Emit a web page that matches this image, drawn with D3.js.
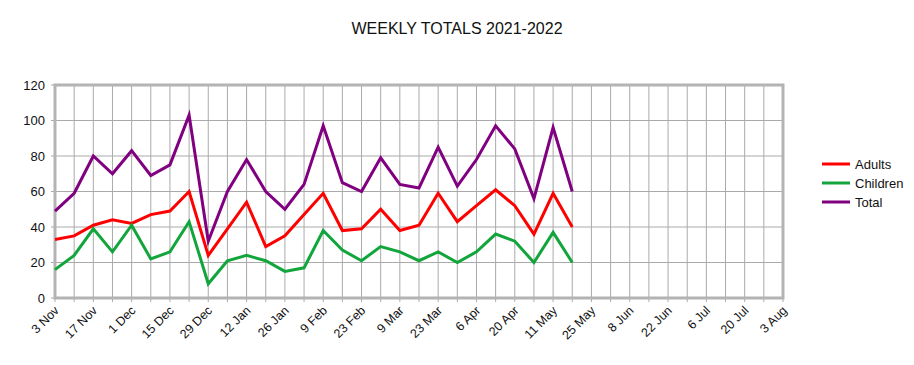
<!DOCTYPE html>
<html>
<head>
<meta charset="utf-8">
<script src="https://cdn.jsdelivr.net/npm/d3@7"></script>
<style>
  body { margin: 0; background: #fff; }
  text { font-family: "Liberation Sans", Arial, sans-serif; }
</style>
</head>
<body>
<div id="chart"></div>
<script>
// weekly categories (one week missing between 20 Apr and 11 May)
var weeks = ["3 Nov", "10 Nov", "17 Nov", "24 Nov", "1 Dec", "8 Dec", "15 Dec", "22 Dec", "29 Dec", "5 Jan",
    "12 Jan", "19 Jan", "26 Jan", "2 Feb", "9 Feb", "16 Feb", "23 Feb", "2 Mar", "9 Mar", "16 Mar",
    "23 Mar", "30 Mar", "6 Apr", "13 Apr", "20 Apr", "27 Apr", "11 May", "18 May", "25 May", "1 Jun",
    "8 Jun", "15 Jun", "22 Jun", "29 Jun", "6 Jul", "13 Jul", "20 Jul", "27 Jul", "3 Aug"];

var adults = [33, 35, 41, 44, 42, 47, 49, 60, 24, 39, 54, 29, 35, 47, 59, 38, 39, 50, 38, 41, 59, 43, 52, 61, 52, 36, 59, 40];
var children = [16, 24, 39, 26, 41, 22, 26, 43, 8, 21, 24, 21, 15, 17, 38, 27, 21, 29, 26, 21, 26, 20, 26, 36, 32, 20, 37, 20];
var total = [49, 59, 80, 70, 83, 69, 75, 103, 32, 60, 78, 60, 50, 64, 97, 65, 60, 79, 64, 62, 85, 63, 78, 97, 84, 56, 96, 60];

var yTicks = [0, 20, 40, 60, 80, 100, 120];

var series = [
    { name: "Adults", values: adults, color: "#ff0000" },
    { name: "Children", values: children, color: "#12a53c" },
    { name: "Total", values: total, color: "#800080" }
];

var width = 914, height = 365;
var plot = { left: 55, right: 783, top: 85, bottom: 298 };

var svg = d3.select("#chart")
    .append("svg")
    .attr("width", width)
    .attr("height", height);

// title
svg.append("text")
    .attr("x", 457)
    .attr("y", 34)
    .attr("text-anchor", "middle")
    .style("font-size", "16px")
    .style("fill", "#111")
    .text("WEEKLY TOTALS 2021-2022");

var x = d3.scalePoint()
    .domain(weeks)
    .range([plot.left, plot.right]);

var y = d3.scaleLinear()
    .domain([0, 120])
    .range([plot.bottom, plot.top]);

// vertical grid, one per week
svg.append("g")
    .selectAll("line")
    .data(weeks)
    .enter()
    .append("line")
    .attr("x1", function (d) { return x(d); })
    .attr("x2", function (d) { return x(d); })
    .attr("y1", plot.top)
    .attr("y2", plot.bottom + 4)
    .style("stroke", "#aaaaaa")
    .style("stroke-width", 1);

// horizontal grid
svg.append("g")
    .selectAll("line")
    .data(yTicks)
    .enter()
    .append("line")
    .attr("x1", plot.left - 4)
    .attr("x2", plot.right)
    .attr("y1", function (d) { return y(d); })
    .attr("y2", function (d) { return y(d); })
    .style("stroke", "#aaaaaa")
    .style("stroke-width", 1);

// Y axis labels
var yAxis = svg.append("g")
    .attr("transform", "translate(" + plot.left + ",0)")
    .call(d3.axisLeft(y).tickValues(yTicks).tickSize(0).tickPadding(10));
yAxis.select(".domain").remove();
yAxis.selectAll("text")
    .style("font-size", "13px")
    .style("fill", "#111")
    .style("font-family", "'Liberation Sans', Arial, sans-serif");

// X axis labels, every other week
var xAxis = svg.append("g")
    .attr("transform", "translate(0," + plot.bottom + ")")
    .call(d3.axisBottom(x)
        .tickValues(weeks.filter(function (d, i) { return i % 2 === 0; }))
        .tickSize(0));
xAxis.select(".domain").remove();
xAxis.selectAll("text")
    .style("font-size", "12.5px")
    .style("fill", "#111")
    .style("font-family", "'Liberation Sans', Arial, sans-serif")
    .style("text-anchor", "end")
    .attr("dy", "0.35em")
    .attr("transform", "translate(-1,8) rotate(-45)");

// plot border
svg.append("rect")
    .attr("x", plot.left)
    .attr("y", plot.top)
    .attr("width", plot.right - plot.left)
    .attr("height", plot.bottom - plot.top)
    .style("fill", "none")
    .style("stroke", "#b3b3b3")
    .style("stroke-width", 3);

var line = d3.line()
    .x(function (d, i) { return x(weeks[i]); })
    .y(function (d) { return y(d); });

svg.append("g")
    .selectAll("path")
    .data(series)
    .enter()
    .append("path")
    .attr("d", function (d) { return line(d.values); })
    .style("fill", "none")
    .style("stroke", function (d) { return d.color; })
    .style("stroke-width", 3)
    .style("stroke-linejoin", "miter");

// legend
var legend = svg.selectAll(".legend")
    .data(series)
    .enter().append("g")
    .attr("class", "legend")
    .attr("transform", function (d, i) { return "translate(822," + (164 + i * 19) + ")"; });

legend.append("line")
    .attr("x1", 0)
    .attr("x2", 28)
    .style("stroke", function (d) { return d.color; })
    .style("stroke-width", 3);

legend.append("text")
    .attr("x", 33)
    .attr("y", 0)
    .attr("dy", "0.35em")
    .style("font-size", "13px")
    .style("fill", "#111")
    .text(function (d) { return d.name; });
</script>
</body>
</html>
